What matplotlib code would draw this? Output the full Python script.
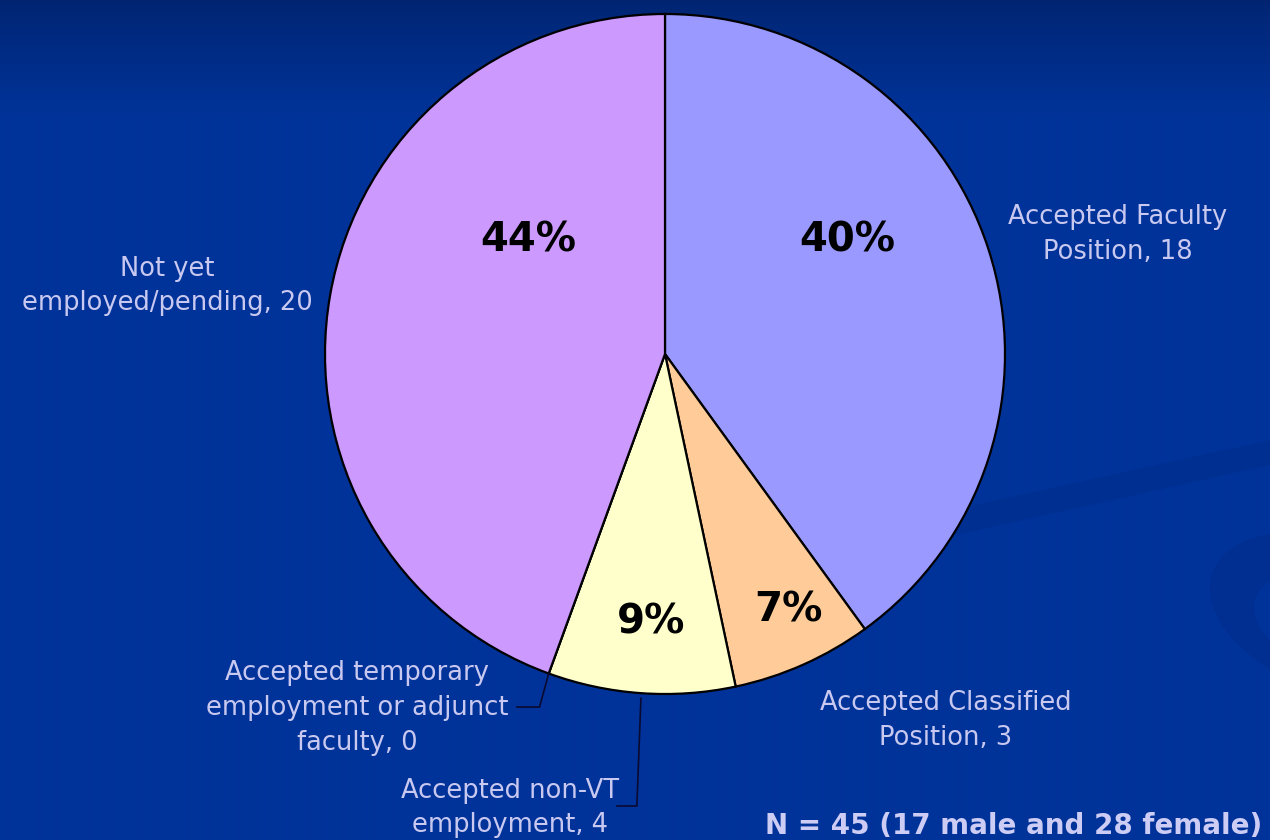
import numpy as np
import matplotlib.pyplot as plt
from matplotlib.patches import Ellipse, Polygon

# data
categories = ['Accepted Faculty\nPosition', 'Accepted Classified\nPosition',
              'Accepted non-VT\nemployment', 'Accepted temporary\nemployment or adjunct\nfaculty',
              'Not yet\nemployed/pending']
counts = [18, 3, 4, 0, 20]
colors = ['#9999FF', '#FFCC99', '#FFFFCC', '#CCFFFF', '#CC99FF']
note = 'N = 45 (17 male and 28 female)'

W, H = 1270, 840
cx, cy, R = 665, 354, 340  # pie centre / radius in pixels


def px(x, y):
    # pixel position -> pie data units
    return (x - cx) / R, (cy - y) / R


fig = plt.figure(figsize=(W / 100, H / 100), dpi=100)
ax = fig.add_axes([0, 0, 1, 1])
x0, y1 = px(0, 0)
x1, y0 = px(W, H)

# background gradient
t = np.linspace(0, 1, 840)[:, None]
top = np.array([0, 36, 112]) / 255
mid = np.array([0, 51, 153]) / 255
k = np.clip(t / 0.14, 0, 1) ** 0.8
k = k[..., None]
grad = top * (1 - k) + mid * k
grad = np.repeat(grad, 2, axis=1)
ax.imshow(grad, extent=[x0, x1, y0, y1], aspect='auto', zorder=0, interpolation='bilinear')

# faint swooshes
band = Polygon([px(860, 530), px(1270, 440), px(1270, 465), px(880, 552)],
               closed=True, fc='#002f91', ec='none', alpha=0.8, zorder=1)
ax.add_patch(band)
sw = Ellipse(px(1330, 615), 250 / R, 150 / R, angle=-20, fc='#002f91', ec='none', zorder=1)
ax.add_patch(sw)
sw2 = Ellipse(px(1345, 630), 190 / R, 100 / R, angle=-20, fc='#003399', ec='none', zorder=1)
ax.add_patch(sw2)

wedges, _ = ax.pie(counts, colors=colors, startangle=90, counterclock=False, radius=1,
                   wedgeprops=dict(edgecolor='black', linewidth=1.6))
for w in wedges:
    w.set_zorder(3)

# percentage labels
total = sum(counts)
pct_pos = [(847, 240), (788, 610), (651, 622), None, (528, 240)]
for c, p in zip(counts, pct_pos):
    if p is None or c == 0:
        continue
    ax.text(*px(*p), f'{round(100 * c / total)}%', ha='center', va='center',
            fontsize=29, fontweight='bold', color='black', zorder=5)

# category labels
lab_col = '#C8C8F0'
lab_pos = [(1118, 235), (946, 720), (510, 808), (357, 708), (167, 286)]
for name, c, p in zip(categories, counts, lab_pos):
    ax.text(*px(*p), f'{name}, {c}', ha='center', va='center', fontsize=18.5,
            color=lab_col, linespacing=1.45, zorder=5)

# leader lines for the two small bottom slices
def edge_point(w, frac, r=1.0):
    a = np.deg2rad(w.theta1 + (w.theta2 - w.theta1) * frac)
    return r * np.cos(a), r * np.sin(a)

ex, ey = edge_point(wedges[3], 0.5)
tx, ty = px(517, 707)
ax.plot([tx, ex - 0.027, ex], [ty, ty, ey], color='#0a0a30', lw=1.2, zorder=4)

ex, ey = edge_point(wedges[2], 0.5, 1.015)
tx, ty = px(617, 806)
ax.plot([tx, ex - 0.012, ex], [ty, ty, ey], color='#0a0a30', lw=1.2, zorder=4)

ax.text(*px(1262, 826), note, ha='right', va='center', fontsize=20,
        fontweight='bold', color='#CCCCF5', zorder=5)

ax.set_xlim(x0, x1)
ax.set_ylim(y0, y1)
ax.set_aspect('auto')
ax.axis('off')

fig.savefig('out.png', dpi=100)
